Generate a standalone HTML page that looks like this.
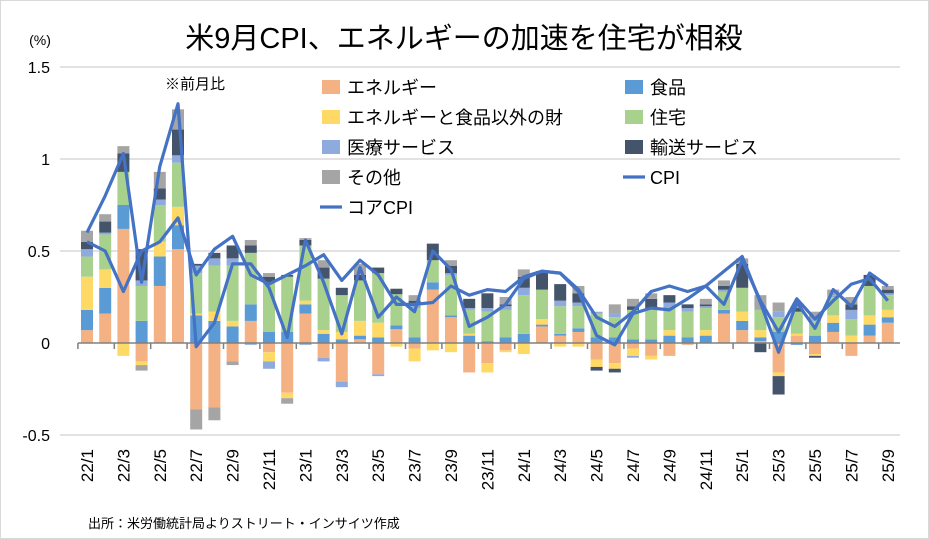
<!DOCTYPE html>
<html><head><meta charset="utf-8">
<style>
body{margin:0;background:#fff;}
svg{display:block;font-family:"Liberation Sans","Noto Sans CJK JP",sans-serif;}
</style></head>
<body>
<svg id="c" width="929" height="539" xmlns="http://www.w3.org/2000/svg"></svg>
<script>
const cols=["#F4B183","#5B9BD5","#FFD966","#A9D18E","#8FAADC","#44546A","#A5A5A5"];
const B=[
[.07,.11,.18,.11,.04,.04,.06],[.16,.14,.10,.19,.01,.06,.04],[.62,.13,-.07,.18,0,.10,.04],[-.10,.12,-.02,.19,.03,.17,-.03],
[.31,.16,.08,.20,.03,.06,.09],[.51,.13,.10,.24,.04,.14,.11],[-.36,.15,.01,.22,.04,.01,-.11],[-.35,.12,.05,.25,.04,.03,-.07],
[-.10,.09,.03,.30,.04,.07,-.02],[.12,.09,0,.28,-.01,.04,.03],[-.05,.06,-.05,.27,-.04,.03,.02],[-.27,.06,-.03,.30,0,.01,-.03],
[.16,.05,.02,.30,-.01,.03,.01],[-.08,.05,.02,.28,-.02,.06,.04],[-.21,.02,.04,.20,-.03,.04,0],[.02,.02,.08,.22,0,.03,.06],
[-.17,.03,.08,.27,-.01,.03,0],[.075,.02,-.02,.17,0,.03,0],[-.03,.03,-.07,.16,.02,.02,.03],[.29,.04,-.04,.12,0,.09,0],
[.14,.01,-.05,.22,.01,.04,.03],[-.16,.04,.01,.13,.01,.05,0],[-.11,.01,-.05,.16,.02,.08,0],[-.04,.03,-.01,.15,.02,.01,.04],
[0,.05,-.06,.21,.04,.06,.04],[.09,.01,.03,.16,0,.10,0],[.04,.01,-.02,.15,.03,.09,0],[.06,.02,-.02,.12,.02,.05,.04],
[-.09,.03,-.04,.13,.01,-.02,0],[-.11,.03,-.03,.11,.02,-.02,.05],
[-.03,.02,-.04,.16,-.01,.02,.04],[-.07,.02,-.02,.17,0,.05,.03],[-.07,.04,.03,.12,.03,.04,0],[-.01,.03,0,.14,.02,.02,0],
[0,.04,.03,.12,.01,.01,.03],[.16,.02,0,.10,.01,.02,.03],[.07,.05,.05,.13,0,.13,.03],[.01,.02,.04,.11,0,-.05,.08],
[-.16,.06,-.02,.08,.03,-.10,.05],[.04,-.01,.01,.12,0,.02,.01],[-.06,.04,-.01,.08,.01,-.01,.04],[.06,.05,.04,.10,.01,0,.03],
[-.07,0,.04,.09,.05,.03,.04],[.04,.06,.05,.16,0,.06,0],[.11,.03,.04,.08,.01,.02,.02]];
const CPI=[.6,.8,1.03,.33,.96,1.3,-.02,.11,.43,.43,.3,.03,.56,.33,.05,.41,.14,.25,.17,.5,.4,.09,.14,.21,.35,.39,.38,.28,.04,-.01,.16,.19,.18,.24,.31,.39,.47,.22,-.05,.22,.08,.29,.2,.38,.31];
const CORE=[.55,.5,.28,.5,.55,.68,.37,.51,.58,.37,.32,.37,.42,.48,.34,.45,.37,.21,.21,.22,.31,.26,.29,.28,.36,.39,.38,.29,.14,.09,.17,.28,.31,.28,.31,.21,.45,.23,.06,.24,.13,.23,.32,.35,.23];
const Y0=343,S=184,X0=87,DX=18.2,W=12;
const y=v=>Y0-v*S, x=i=>X0+i*DX;
let s='<rect x="0.5" y="0.5" width="928" height="538" fill="#fff" stroke="#d9d9d9"/>';
s+='<text x="464" y="48" font-size="29" text-anchor="middle" fill="#000">米9月CPI、エネルギーの加速を住宅が相殺</text>';
s+='<text x="40" y="45" font-size="14" text-anchor="middle">(%)</text>';
[[1.5,"1.5"],[1,"1"],[.5,"0.5"],[0,"0"],[-.5,"-0.5"]].forEach(([v,t])=>{
 if(v!==0)s+=`<line x1="60" x2="900" y1="${y(v)}" y2="${y(v)}" stroke="#d9d9d9" stroke-width="1.5"/>`;
 s+=`<text x="50" y="${y(v)+6}" font-size="16" text-anchor="end">${t}</text>`;});
B.forEach((r,i)=>{let p=0,n=0;r.forEach((v,k)=>{if(v>=0){s+=`<rect x="${x(i)-W/2}" y="${y(p+v)}" width="${W}" height="${v*S}" fill="${cols[k]}"/>`;p+=v;}else{s+=`<rect x="${x(i)-W/2}" y="${y(n)}" width="${W}" height="${-v*S}" fill="${cols[k]}"/>`;n+=v;}});});
s+=`<line x1="78" x2="900" y1="${Y0}" y2="${Y0}" stroke="#808080" stroke-width="1.5"/>`;
for(let i=0;i<=45;i+=2){const tx=x(i)-DX/2;s+=`<line x1="${tx}" x2="${tx}" y1="${Y0}" y2="${Y0+6}" stroke="#808080" stroke-width="1.5"/>`;}
const pl=a=>a.map((v,i)=>`${x(i).toFixed(1)},${y(v).toFixed(1)}`).join(' ');
s+=`<polyline points="${pl(CORE)}" fill="none" stroke="#4472C4" stroke-width="3.2" stroke-linejoin="round"/>`;
s+=`<polyline points="${pl(CPI)}" fill="none" stroke="#4472C4" stroke-width="3.2" stroke-linejoin="round"/>`;
const labs=["22/1","22/3","22/5","22/7","22/9","22/11","23/1","23/3","23/5","23/7","23/9","23/11","24/1","24/3","24/5","24/7","24/9","24/11","25/1","25/3","25/5","25/7","25/9"];
labs.forEach((t,j)=>{const lx=x(j*2)+6;s+=`<text transform="translate(${lx},449) rotate(-90)" font-size="17" text-anchor="end">${t}</text>`;});
s+='<text x="165" y="89" font-size="15">※前月比</text>';
const L=[[0,0,"エネルギー",0],[1,0,"食品",1],[0,1,"エネルギーと食品以外の財",2],[1,1,"住宅",3],[0,2,"医療サービス",4],[1,2,"輸送サービス",5],[0,3,"その他",6],[1,3,"CPI",-1],[0,4,"コアCPI",-1]];
L.forEach(([c,r,t,k])=>{const sx=c?625:322,ly=87+r*30;
 if(k>=0)s+=`<rect x="${sx}" y="${ly-7}" width="18" height="14" fill="${cols[k]}"/>`;
 else s+=`<line x1="${sx-2}" x2="${sx+20}" y1="${ly}" y2="${ly}" stroke="#4472C4" stroke-width="3.2"/>`;
 s+=`<text x="${sx+25}" y="${ly+7}" font-size="18">${t}</text>`;});
s+='<text x="88" y="528" font-size="13">出所：米労働統計局よりストリート・インサイツ作成</text>';
document.getElementById('c').innerHTML=s;
</script>
</body></html>
